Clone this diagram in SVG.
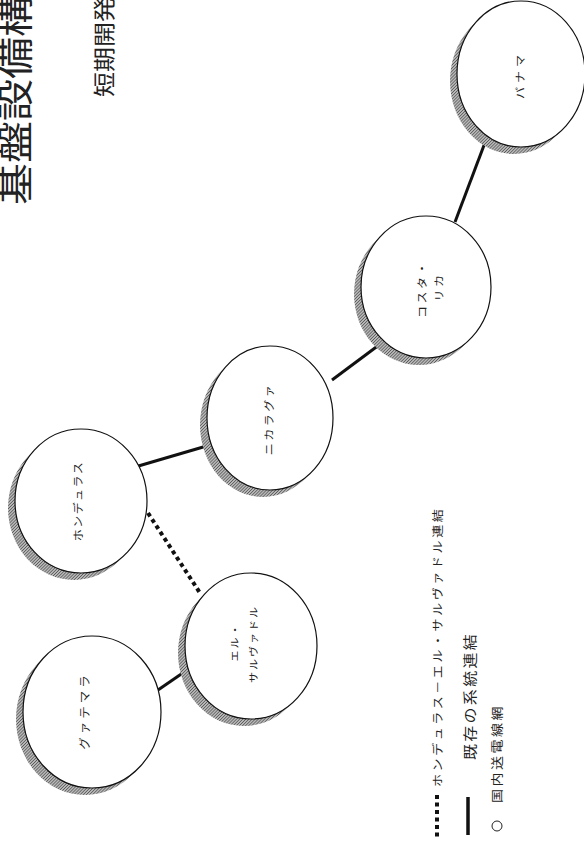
<svg xmlns="http://www.w3.org/2000/svg" width="584" height="841" viewBox="0 0 584 841">
<defs>
<pattern id="hatch" width="2.2" height="2.2" patternUnits="userSpaceOnUse" patternTransform="rotate(45)">
<rect width="2.2" height="2.2" fill="#b8b8b8"/>
<line x1="0" y1="0" x2="0" y2="2.2" stroke="#3a3a3a" stroke-width="1.1"/>
</pattern>
</defs>
<style>
.sh{fill:url(#hatch);stroke:none}
.c{fill:#fff;stroke:#111;stroke-width:1.2}
.lbl{font-family:"Noto Sans CJK JP","Noto Sans",sans-serif;fill:#222;dominant-baseline:central}
.mid{text-anchor:middle}
.st{text-anchor:start}
.con{stroke:#111;stroke-width:3;fill:none}
.dot{stroke:#111;stroke-width:4;fill:none;stroke-dasharray:4 3.5}
</style>
<rect width="584" height="841" fill="#fff"/>
<g id="title">
<text class="lbl st" font-size="42" transform="translate(13,205) scale(0.87,1) rotate(-90)">基盤設備構</text>
<text class="lbl st" font-size="25" transform="translate(103,97) scale(0.87,1) rotate(-90)">短期開発</text>
</g>
<g id="connectors">
<line class="con" x1="486" y1="140" x2="455" y2="222"/>
<line class="con" x1="383" y1="342" x2="332" y2="380"/>
<line class="con" x1="210" y1="445" x2="135" y2="467"/>
<line class="dot" x1="148" y1="513" x2="200" y2="593"/>
<line class="con" x1="190" y1="668" x2="158" y2="690"/>
</g>
<g id="panama">
<ellipse class="sh" cx="514" cy="81" rx="64" ry="73"/>
<ellipse class="c" cx="521" cy="74" rx="64" ry="73"/>
<text class="lbl mid" font-size="12" letter-spacing="4" transform="translate(519,75) scale(0.87,1) rotate(-90)">パナマ</text>
</g>
<g id="costarica">
<ellipse class="sh" cx="419" cy="294" rx="65" ry="71"/>
<ellipse class="c" cx="426" cy="287" rx="65" ry="71"/>
<text class="lbl mid" font-size="12" letter-spacing="2.5" transform="translate(421,289) scale(0.87,1) rotate(-90)">コスタ・</text>
<text class="lbl mid" font-size="12" letter-spacing="2.5" transform="translate(438,287) scale(0.87,1) rotate(-90)">リカ</text>
</g>
<g id="nicaragua">
<ellipse class="sh" cx="263" cy="425" rx="63" ry="72"/>
<ellipse class="c" cx="270" cy="418" rx="63" ry="72"/>
<text class="lbl mid" font-size="12" letter-spacing="2.5" transform="translate(268,419) scale(0.87,1) rotate(-90)">ニカラグァ</text>
</g>
<g id="honduras">
<ellipse class="sh" cx="74" cy="508" rx="66" ry="72"/>
<ellipse class="c" cx="81" cy="501" rx="66" ry="72"/>
<text class="lbl mid" font-size="12" letter-spacing="1.5" transform="translate(77,501) scale(0.87,1) rotate(-90)">ホンデュラス</text>
</g>
<g id="elsalvador">
<ellipse class="sh" cx="244" cy="653" rx="66" ry="73"/>
<ellipse class="c" cx="251" cy="646" rx="66" ry="73"/>
<text class="lbl mid" font-size="11" letter-spacing="2" transform="translate(234,642) scale(0.87,1) rotate(-90)">エル・</text>
<text class="lbl mid" font-size="11" letter-spacing="2" transform="translate(253,644) scale(0.87,1) rotate(-90)">サルヴァドル</text>
</g>
<g id="guatemala">
<ellipse class="sh" cx="85" cy="719" rx="69" ry="76"/>
<ellipse class="c" cx="92" cy="712" rx="69" ry="76"/>
<text class="lbl mid" font-size="12.5" letter-spacing="3" transform="translate(84,711) scale(0.87,1) rotate(-90)">グァテマラ</text>
</g>
<g id="legend">
<line class="dot" x1="437" y1="795" x2="437" y2="837"/>
<text class="lbl st" font-size="13" letter-spacing="2.6" transform="translate(437,787) scale(0.87,1) rotate(-90)">ホンデュラス－エル・サルヴァドル連結</text>
<line x1="468" y1="797" x2="468" y2="835" stroke="#111" stroke-width="3.5"/>
<text class="lbl st" font-size="16" letter-spacing="2.3" transform="translate(469,760) scale(0.87,1) rotate(-90)">既存の系統連結</text>
<circle cx="497" cy="826" r="5" fill="none" stroke="#222" stroke-width="1"/>
<text class="lbl st" font-size="14" letter-spacing="2.5" transform="translate(497,803) scale(0.87,1) rotate(-90)">国内送電線網</text>
</g>
</svg>
